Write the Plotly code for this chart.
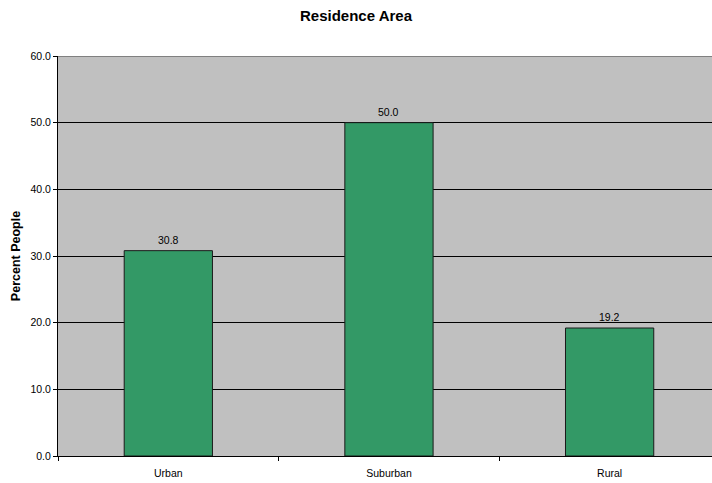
import plotly.graph_objects as go

categories = ["Urban", "Suburban", "Rural"]
percent_people = [30.8, 50.0, 19.2]
y_ticks = [0, 10, 20, 30, 40, 50, 60]
y_tick_labels = ["0.0", "10.0", "20.0", "30.0", "40.0", "50.0", "60.0"]

FONT = "Liberation Sans, Arial, sans-serif"

fig = go.Figure()
fig.add_trace(go.Bar(
    x=categories,
    y=percent_people,
    width=0.4,
    marker=dict(color="#339966", line=dict(color="#1a1a1a", width=1)),
))

# value labels above each bar
for cat, val in zip(categories, percent_people):
    fig.add_annotation(x=cat, y=val, text=f"{val:.1f}", showarrow=False,
                       xref="x", yref="y", yanchor="middle", yshift=11,
                       font=dict(family=FONT, size=10.5, color="#000000"))

fig.update_layout(
    width=712, height=483,
    margin=dict(l=58, r=0, t=56, b=27),
    paper_bgcolor="#ffffff",
    plot_bgcolor="#c0c0c0",
    showlegend=False,
    font=dict(family=FONT, size=10.5, color="#000000"),
    title=dict(text="<b>Residence Area</b>", x=0.5, xanchor="center", y=1 - 16 / 483,
               yanchor="middle", font=dict(size=15, color="#000000")),
    xaxis=dict(
        range=[-0.5, 2.464],
        showgrid=False,
        showline=True, linecolor="#000000", linewidth=1,
        ticks="outside", tickson="boundaries", ticklen=4, tickcolor="#000000",
        ticklabelstandoff=7,
        tickfont=dict(size=10.5),
    ),
    yaxis=dict(
        range=[0, 60],
        tickvals=y_ticks, ticktext=y_tick_labels,
        showgrid=True, gridcolor="#000000", gridwidth=1,
        showline=True, linecolor="#000000", linewidth=1,
        ticks="outside", ticklen=4, tickcolor="#000000",
        zeroline=False,
        tickfont=dict(size=10.5),
        title=dict(text="<b>Percent People</b>", font=dict(size=12.5), standoff=7),
    ),
)

# darker frame line along the top of the plot area
fig.add_shape(type="line", xref="paper", yref="y", x0=0, x1=1, y0=60, y1=60,
              line=dict(color="#808080", width=2))

fig.write_html("out.html")
